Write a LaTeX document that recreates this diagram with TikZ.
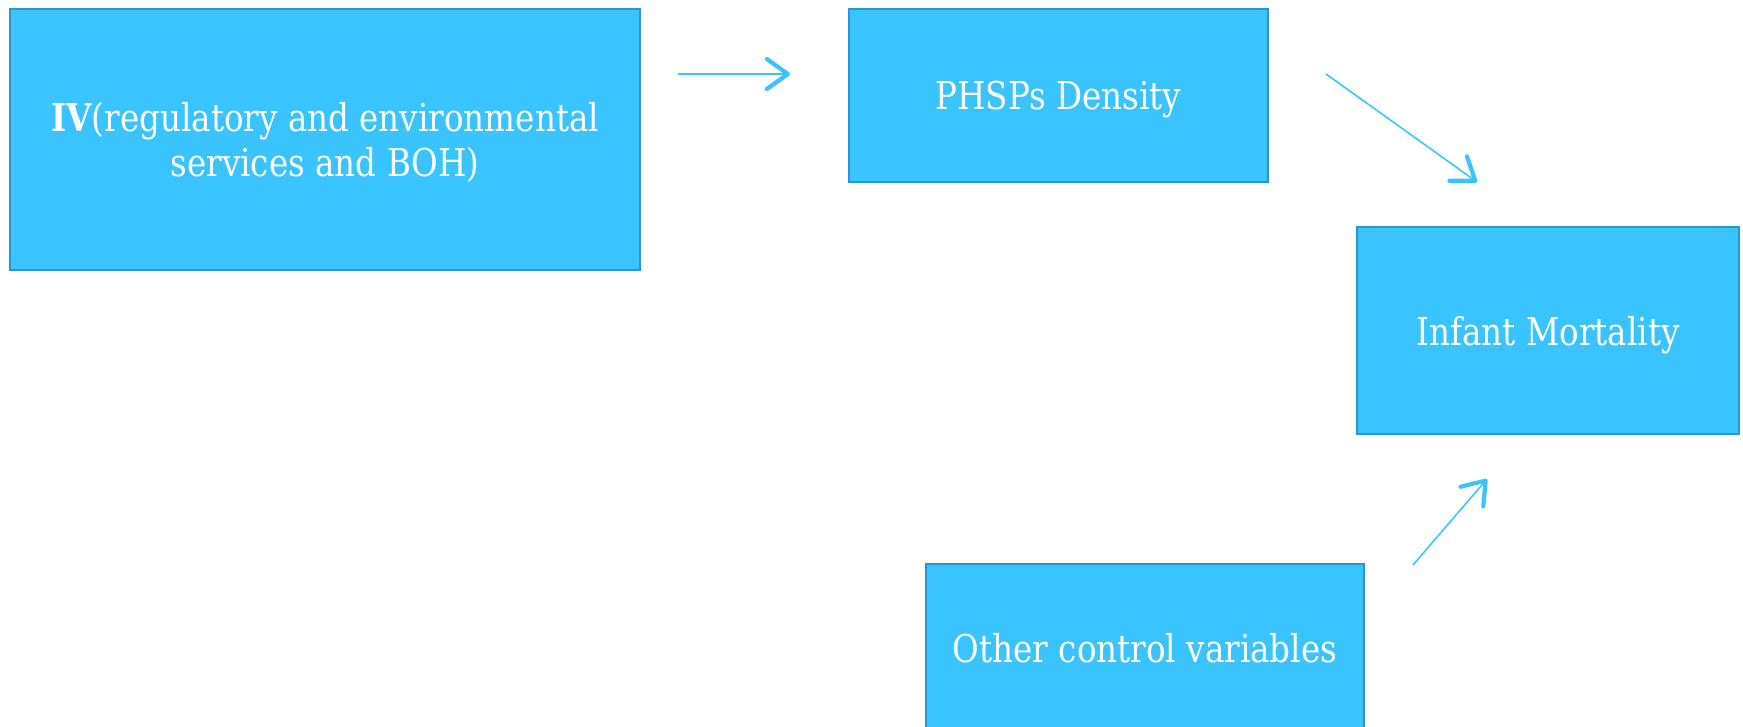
\documentclass[tikz,border=0pt]{standalone}
\definecolor{boxblue}{RGB}{58,196,255}
\definecolor{boxedge}{RGB}{38,152,204}
\definecolor{arrowblue}{RGB}{58,196,255}
\usepackage{fontspec}
\setmainfont{DejaVu Serif}[FakeStretch=0.85]
\usepackage{tikz}
\usepackage{xcolor}
\usetikzlibrary{arrows.meta,positioning}

\begin{document}
\begin{tikzpicture}[
    varbox/.style={draw=boxedge,line width=0.7pt,fill=boxblue,text=white,align=center,inner sep=0pt,text depth=0pt,font=\fontsize{10.9}{12.6}\selectfont},
    link/.style={draw=arrowblue,line width=0.45pt,-{Straight Barb[length=2.1mm,width=3mm,line width=1.2pt,round]}}]
                \useasboundingbox (0,0) rectangle (17.43,-7.26);
                \node[varbox,minimum width=6.30cm,minimum height=2.61cm] (iv) at (3.25,-1.395) {\textbf{IV}(regulatory and environmental\\services and BOH)};
                \node[varbox,minimum width=4.19cm,minimum height=1.73cm] (phsps) at (10.585,-0.955) {PHSPs Density};
                \node[varbox,minimum width=3.82cm,minimum height=2.07cm] (infant) at (15.48,-3.305) {Infant Mortality};
                \node[varbox,minimum width=4.38cm,minimum height=1.68cm] (others) at (11.45,-6.48) {Other control variables};
                % arrows float between the boxes
                \coordinate (ivout) at (6.78,-0.74); \coordinate (phspsin) at (7.90,-0.74);
                \coordinate (phspsout) at (13.26,-0.74); \coordinate (infantin) at (14.77,-1.82);
                \coordinate (othersout) at (14.13,-5.65); \coordinate (infantlow) at (14.87,-4.79);
                \draw[link] (ivout) -- (phspsin);
                \draw[link] (phspsout) -- (infantin);
                \draw[link] (othersout) -- (infantlow);
            \end{tikzpicture}
\end{document}
